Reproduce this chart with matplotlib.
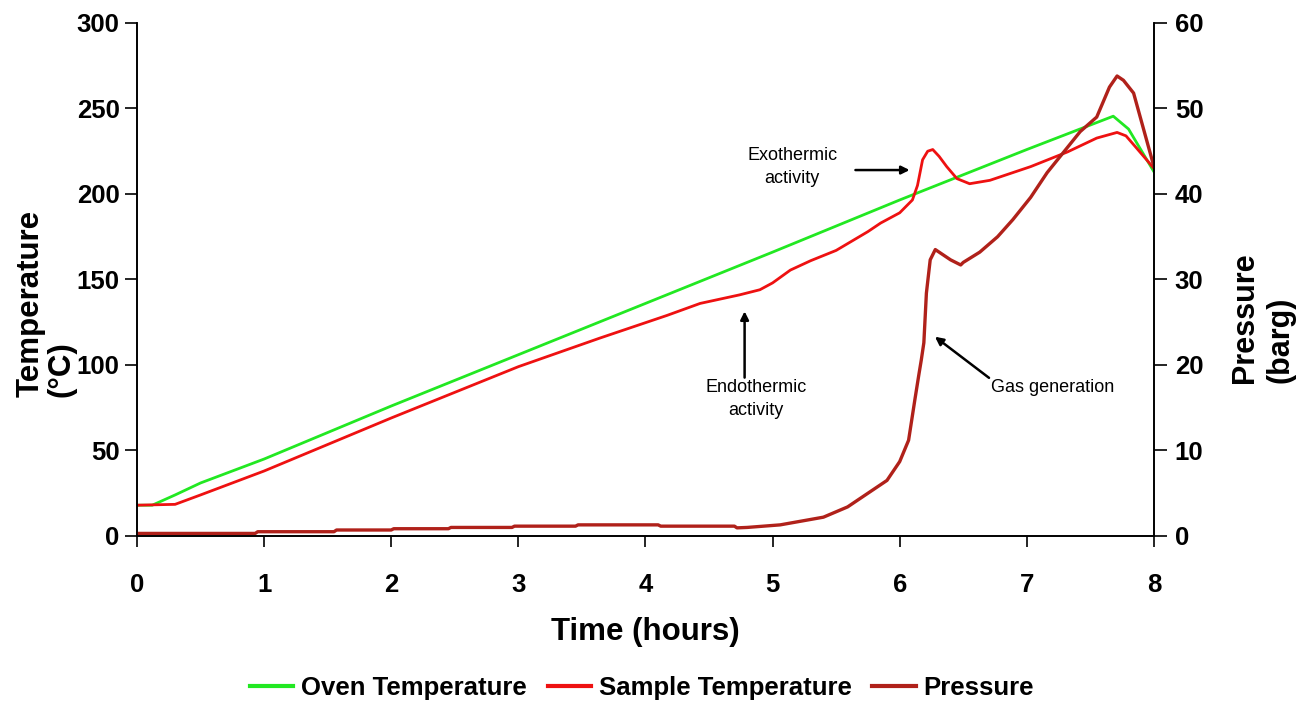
import matplotlib
matplotlib.use('Agg')
import matplotlib.pyplot as plt

plt.rcParams['font.family'] = ['Liberation Sans', 'DejaVu Sans']

# Oven temperature (deg C) vs time (h)
oven_time = [0, 0.12, 0.3, 0.5, 1, 2, 3, 4, 5, 6, 7, 7.68, 7.8, 8.0]
oven_temp = [18, 18, 24, 31, 45, 76, 106, 136, 166, 196.5, 226, 245.5, 238, 213]

# Sample temperature (deg C) vs time (h)
sample_time = [0, 0.3, 0.5, 1, 2, 3, 3.64, 4.17, 4.43, 4.74, 4.9, 5.0, 5.14, 5.3, 5.5,
               5.75, 5.85, 6.0, 6.1, 6.14, 6.18, 6.22, 6.26, 6.31, 6.37, 6.45, 6.55,
               6.71, 7.03, 7.32, 7.55, 7.71, 7.78, 7.85, 8.0]
sample_temp = [18, 18.5, 24, 38, 69, 99, 115.7, 129, 136, 141, 144, 148, 155.5, 161, 167,
               178, 183, 189, 196.5, 205, 220, 225, 226, 222, 216, 209, 206,
               208, 216, 224.6, 232.7, 236, 234, 228, 215]

# Pressure (barg) vs time (h)
pressure_time = [0, 0.93, 0.95, 1.55, 1.57, 2.0, 2.02, 2.45, 2.47, 2.95, 2.97, 3.45, 3.47,
                 4.1, 4.12, 4.7, 4.72, 4.8, 5.06, 5.4, 5.59, 5.79, 5.9, 6.0, 6.07, 6.12,
                 6.15, 6.17, 6.19, 6.21, 6.24, 6.28, 6.33, 6.4, 6.48, 6.5, 6.63, 6.77,
                 6.89, 7.03, 7.16, 7.29, 7.42, 7.55, 7.65, 7.71, 7.76, 7.84, 8.0]
pressure = [0.3, 0.3, 0.5, 0.5, 0.7, 0.7, 0.85, 0.85, 1.0, 1.0, 1.15, 1.15, 1.3,
            1.3, 1.15, 1.15, 0.95, 1.0, 1.3, 2.2, 3.4, 5.4, 6.5, 8.7, 11.2, 16,
            18.8, 20.6, 22.6, 28.4, 32.3, 33.5, 33.0, 32.3, 31.7, 32, 33.2, 35,
            37, 39.6, 42.5, 44.9, 47.3, 49, 52.5, 53.8, 53.3, 51.8, 43.2]

fig = plt.figure(figsize=(12.97, 7.01), dpi=100)
ax = fig.add_axes([0.1056, 0.2354, 0.7841, 0.7318])
ax2 = ax.twinx()

l1, = ax.plot(oven_time, oven_temp, color='#22E822', lw=2, label='Oven Temperature')
l2, = ax.plot(sample_time, sample_temp, color='#EE1111', lw=2, label='Sample Temperature')
l3, = ax2.plot(pressure_time, pressure, color='#B0211A', lw=2.4, label='Pressure')

ax.set_xlim(0, 8)
ax.set_ylim(0, 300)
ax2.set_ylim(0, 60)
ax.set_xticks(range(0, 9))
ax.set_yticks(range(0, 301, 50))
ax2.set_yticks(range(0, 61, 10))

for a in (ax, ax2):
    a.spines['top'].set_visible(False)
    for s in a.spines.values():
        s.set_linewidth(1.2)
ax.tick_params(axis='y', direction='out', length=9, width=1.2, pad=3.5, labelsize=18.5)
ax.tick_params(axis='x', direction='out', length=8, width=1.2, pad=19, labelsize=18.5)
ax2.tick_params(axis='y', direction='out', length=9, width=1.2, pad=6, labelsize=18.5)
for lab in ax.get_xticklabels() + ax.get_yticklabels() + ax2.get_yticklabels():
    lab.set_fontweight('bold')

ax.set_xlabel('Time (hours)', fontsize=22.5, fontweight='bold', labelpad=14)

# Axis titles as rotated two-line text
fig.text(0.0355, 0.4337, 'Temperature\n(°C)', rotation=90, ha='center', va='bottom',
         multialignment='left', fontsize=22.5, fontweight='bold', linespacing=1.0)
fig.text(0.9735, 0.4536, 'Pressure\n(barg)', rotation=90, ha='center', va='bottom',
         multialignment='left', fontsize=22, fontweight='bold', linespacing=1.25)

# Annotations
arrow = dict(arrowstyle='-|>', color='black', lw=1.8, mutation_scale=12)
ax.annotate('', xy=(6.1, 214), xytext=(5.63, 214), arrowprops=arrow)
ax.text(5.155, 216, 'Exothermic\nactivity', ha='center', va='center', fontsize=13,
        linespacing=1.45)
ax.annotate('', xy=(4.78, 133), xytext=(4.78, 91), arrowprops=arrow)
ax.text(4.87, 80, 'Endothermic\nactivity', ha='center', va='center', fontsize=13,
        linespacing=1.45)
ax2.annotate('', xy=(6.26, 23.5), xytext=(6.72, 18.3), arrowprops=arrow)
ax2.text(7.2, 17.4, 'Gas generation', ha='center', va='center', fontsize=13)

leg = fig.legend(handles=[l1, l2, l3], loc='center', bbox_to_anchor=(0.495, 0.0185),
                 ncol=3, frameon=False, prop={'size': 18.5, 'weight': 'bold'},
                 handlelength=1.7, handletextpad=0.3, columnspacing=0.8)
for h in leg.legend_handles:
    h.set_linewidth(3)

fig.savefig('out.png', dpi=100)
